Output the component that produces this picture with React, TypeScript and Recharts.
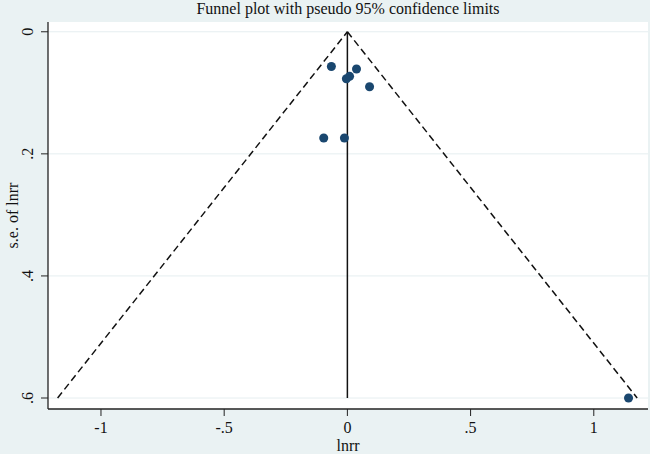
import {
  CartesianGrid,
  ComposedChart,
  ReferenceLine,
  Scatter,
  XAxis,
  YAxis,
} from "recharts";

// study estimates: lnrr and its standard error
const lnrr = [-0.065, 0.037, 0.009, -0.004, 0.09, -0.096, -0.012, 1.141];
const seLnrr = [0.057, 0.061, 0.073, 0.077, 0.09, 0.174, 0.174, 0.6];

const xTicks = [-1, -0.5, 0, 0.5, 1];
const yTicks = [0, 0.2, 0.4, 0.6];

// pooled estimate and pseudo 95% limits at the largest s.e.
const pooled = 0;
const maxSe = 0.6;
const z95 = 1.96;

const points = lnrr.map((x, i) => ({ x, y: seLnrr[i] }));

const fmt = (v: number) => {
  if (v === 0) return "0";
  const s = String(v);
  return s.replace(/^(-?)0\./, "$1.");
};

const font = "'Liberation Serif', 'DejaVu Serif', serif";

function XTick({ x, y, payload }: any) {
  return (
    <text x={x} y={y + 15} textAnchor="middle" fontFamily={font} fontSize={16} fill="#111">
      {fmt(payload.value)}
    </text>
  );
}

function YTick({ y, payload }: any) {
  const cx = 28;
  return (
    <text
      x={cx}
      y={y}
      transform={`rotate(-90 ${cx} ${y})`}
      textAnchor="middle"
      dominantBaseline="central"
      fontFamily={font}
      fontSize={16}
      fill="#111"
    >
      {fmt(payload.value)}
    </text>
  );
}

function YTitle({ viewBox }: any) {
  const cx = 12;
  const cy = viewBox.y + viewBox.height / 2;
  return (
    <text
      x={cx}
      y={cy}
      transform={`rotate(-90 ${cx} ${cy})`}
      textAnchor="middle"
      dominantBaseline="central"
      fontFamily={font}
      fontSize={16}
      fill="#111"
    >
      s.e. of lnrr
    </text>
  );
}

function XTitle({ viewBox }: any) {
  const cx = viewBox.x + viewBox.width / 2;
  return (
    <text x={cx} y={451} textAnchor="middle" fontFamily={font} fontSize={16} fill="#111">
      lnrr
    </text>
  );
}

export default function App() {
  const lo = pooled - z95 * maxSe;
  const hi = pooled + z95 * maxSe;
  return (
    <div
      style={{
        position: "absolute",
        left: 0,
        top: 0,
        width: 650,
        height: 454,
        background: "#eaf2f3",
        fontFamily: font,
      }}
    >
      <div
        style={{
          position: "absolute",
          top: 0,
          left: 48,
          width: 600,
          textAlign: "center",
          fontSize: 16,
          color: "#111",
        }}
      >
        Funnel plot with pseudo 95% confidence limits
      </div>
      <ComposedChart
        width={650}
        height={454}
        data={points}
        margin={{ top: 22, right: 2, bottom: 0, left: 0 }}
      >
        <CartesianGrid
          vertical={false}
          horizontalValues={yTicks}
          stroke="#e6eef0"
          fill="#ffffff"
          strokeWidth={1}
        />
        <XAxis
          type="number"
          dataKey="x"
          domain={[-1.215, 1.22]}
          ticks={xTicks}
          allowDataOverflow
          height={45}
          tickSize={7}
          tick={<XTick />}
          axisLine={{ stroke: "#222", strokeWidth: 1.3 }}
          tickLine={{ stroke: "#222" }}
          label={<XTitle />}
        />
        <YAxis
          type="number"
          dataKey="y"
          reversed
          domain={[-0.016, 0.618]}
          ticks={yTicks}
          allowDataOverflow
          width={48}
          tickSize={7}
          tick={<YTick />}
          axisLine={{ stroke: "#222", strokeWidth: 1.3 }}
          tickLine={{ stroke: "#222" }}
          label={<YTitle />}
        />
        <ReferenceLine
          segment={[
            { x: lo, y: maxSe },
            { x: pooled, y: 0 },
          ]}
          stroke="#111"
          strokeWidth={1.5}
          strokeDasharray="7 4"
        />
        <ReferenceLine
          segment={[
            { x: pooled, y: 0 },
            { x: hi, y: maxSe },
          ]}
          stroke="#111"
          strokeWidth={1.5}
          strokeDasharray="7 4"
        />
        <ReferenceLine
          segment={[
            { x: pooled, y: 0 },
            { x: pooled, y: maxSe },
          ]}
          stroke="#111"
          strokeWidth={1.5}
        />
        <Scatter
          dataKey="y"
          fill="#1a476f"
          shape="circle"
          isAnimationActive={false}
          r={4}
        />
      </ComposedChart>
    </div>
  );
}
